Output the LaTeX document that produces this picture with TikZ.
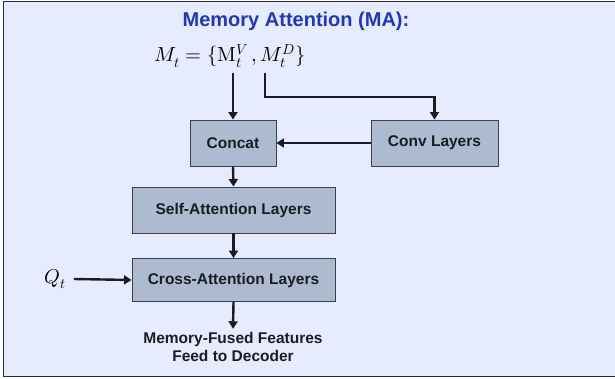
\documentclass[tikz,border=0pt]{standalone}
\usepackage{fontspec}
\usepackage{unicode-math}
\setmainfont{Liberation Sans}
\setmathfont{Latin Modern Math}
\usetikzlibrary{arrows.meta}
\definecolor{panelbg}{HTML}{E6EBFD}
\definecolor{boxfill}{HTML}{ADBACF}
\definecolor{boxline}{HTML}{3C4048}
\definecolor{titleblue}{HTML}{2238B0}
\definecolor{ink}{HTML}{1A1C24}
\definecolor{framegray}{HTML}{2A2C30}
\tikzset{
  block/.style={draw=boxline, line width=0.9pt, fill=boxfill, minimum height=46pt,
    inner sep=0pt, text=ink, font=\fontsize{15.5}{18}\selectfont\bfseries},
  flow/.style={draw=ink, line width=2.4pt, -{Triangle[width=9pt,length=7.5pt]}},
  label/.style={text=ink, font=\fontsize{15.5}{18}\selectfont\bfseries, align=center}
}
\begin{document}
\begin{tikzpicture}[x=1pt,y=-1pt]
\useasboundingbox (0,0) rectangle (615,379);
\fill[white] (0,0) rectangle (615,379);
\fill[panelbg] (3.5,1.5) rectangle (615,376.5);
\draw[framegray, line width=1.8pt] (620,1.5) -- (3.5,1.5) -- (3.5,376.5) -- (620,376.5);

% heading and memory formula
\node[text=titleblue, font=\fontsize{20}{24}\selectfont\bfseries] (title) at (296,21) {Memory Attention (MA):};
\node[font=\fontsize{20.5}{24}\selectfont, inner sep=0pt] (mem) at (230,56) {$M_t=\{\symup{M}_t^V\,, M_t^D\}$};
\coordinate (m1) at (233,73);
\coordinate (m2) at (265,73);

% processing blocks
\node[block, minimum width=86pt] (concat) at (233,143) {Concat};
\node[block, minimum width=127pt] (conv) at (434.5,143) {Conv Layers};
\node[block, minimum width=203pt] (self) at (233.5,210) {Self-Attention Layers};
\node[block, minimum width=203pt, minimum height=43pt] (cross) at (233.5,280) {Cross-Attention Layers};

\node[font=\fontsize{20}{24}\selectfont, inner sep=8pt] (q) at (55,279) {$Q_t$};
\node[label] (out) at (233,347) {Memory-Fused Features\\Feed to Decoder};

% connectors
\draw[flow] (m1) -- (concat.north);
\draw[flow] (m2) -- ++(0,24) -| (conv.north);
\draw[flow] (conv.west) -- (concat.east);
\draw[flow] (concat.south) -- (self.north);
\draw[flow] (self.south) -- (cross.north);
\draw[flow] (q.east) -- (cross.west);
\draw[flow] (cross.south) -- (out.north);
\end{tikzpicture}
\end{document}
